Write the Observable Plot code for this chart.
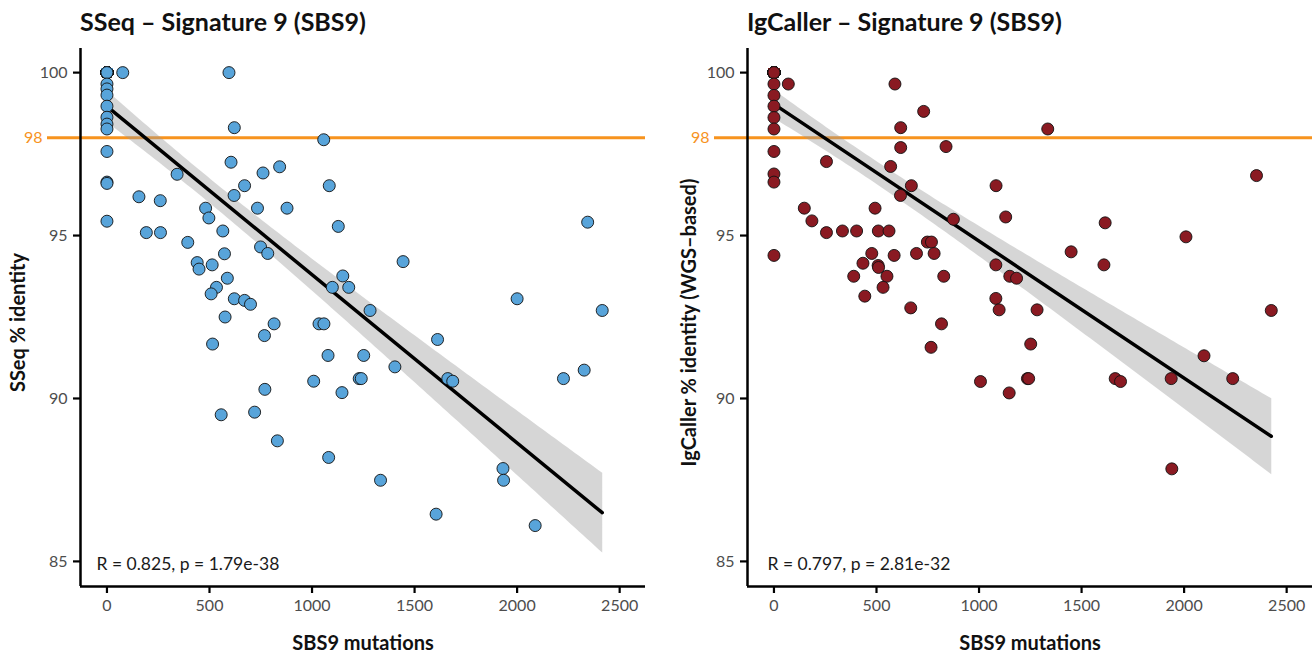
<!DOCTYPE html>
<html><head><meta charset="utf-8">
<script src="https://cdn.jsdelivr.net/npm/d3@7"></script>
<script src="https://cdn.jsdelivr.net/npm/@observablehq/plot@0.6"></script>
<style>
body{margin:0;background:#fff;font-family:Lato,sans-serif;}
.panel{position:absolute;top:0;width:658px;height:659px;}
.title{position:absolute;top:6px;font:bold 25px Lato,sans-serif;color:#111;white-space:nowrap;}
.panel svg{position:absolute;top:40px;left:0;}
</style></head><body>
<div id="p1" class="panel" style="left:0"></div>
<div id="p2" class="panel" style="left:658px"></div>
<script>
// ---- SSeq panel (SBS9 mutations vs SSeq % identity) ----
// many samples with 0 mutations / 100% identity are stacked on one spot
const sseqX = [0,0,0,0,0,0,0,0,0,0, 0,0,0,0,0,0,0,0,0,0, 0,0,0,0,0,0,0,0,0,0, 0,0,0,0,0,0,0,0,0,0, 0,0,0,0,0,0,0,0,0,0, 0,0,0,0,0,0,0,0,0,
  77,595,0,0,0,0,0,0,0,621,1057,0,605,842,761,342,0,0,1084,671,620,156,260,481,734,878,497,0,1128,192,261,565,394,749,784,573,440,449,513,1150,1099,1179,587,534,508,621,671,700,1283,576,815,1034,1058,768,515,1078,1252,1008,1230,1240,770,1146,557,720,831,1081,1444,2344,2000,2415,1612,1404,1662,1686,2226,2327,1931,1934,1334,1605,2088];
const sseqY = [100,100,100,100,100,100,100,100,100,100, 100,100,100,100,100,100,100,100,100,100, 100,100,100,100,100,100,100,100,100,100, 100,100,100,100,100,100,100,100,100,100, 100,100,100,100,100,100,100,100,100,100, 100,100,100,100,100,100,100,100,100,
  100,100,99.65,99.5,99.31,98.97,98.63,98.42,98.27,98.31,97.94,97.58,97.25,97.11,96.92,96.88,96.64,96.6,96.53,96.53,96.23,96.19,96.07,95.84,95.84,95.84,95.54,95.44,95.28,95.09,95.09,95.14,94.79,94.65,94.45,94.44,94.17,93.97,94.10,93.76,93.41,93.41,93.69,93.41,93.21,93.06,93.01,92.89,92.70,92.50,92.29,92.29,92.29,91.93,91.67,91.32,91.32,90.53,90.61,90.61,90.28,90.18,89.50,89.58,88.70,88.19,94.20,95.41,93.06,92.70,91.81,90.97,90.61,90.53,90.61,90.87,87.85,87.49,87.49,86.45,86.10];
// ---- IgCaller panel ----
const igX = [0,0,0,0,0,0,0,0,0,0, 0,0,0,0,0,0,0,0,0,0, 0,0,0,0,0,0,0,0,0,0, 0,0,0,0,0,0,0,0,0,0, 0,0,0,0,0,0,0,0,0,0, 0,0,0,0,0,0,0,0,0,
  0,70,590,0,0,730,0,0,618,618,839,0,256,569,0,0,670,1083,617,148,493,1130,185,875,256,334,403,509,561,748,768,0,477,586,695,781,434,508,510,389,551,828,1082,1150,1183,532,443,667,1082,1098,1283,817,766,1252,1007,1236,1242,1147,1335,2353,1615,2009,1449,1609,2425,1664,1690,1937,2097,2237,1940];
const igY = [100,100,100,100,100,100,100,100,100,100, 100,100,100,100,100,100,100,100,100,100, 100,100,100,100,100,100,100,100,100,100, 100,100,100,100,100,100,100,100,100,100, 100,100,100,100,100,100,100,100,100,100, 100,100,100,100,100,100,100,100,100,
  99.65,99.65,99.65,99.30,98.97,98.81,98.62,98.27,98.31,97.70,97.73,97.58,97.27,97.12,96.89,96.64,96.53,96.53,96.23,95.84,95.84,95.57,95.45,95.50,95.09,95.14,95.14,95.14,95.14,94.80,94.80,94.39,94.45,94.39,94.45,94.45,94.15,94.08,94.02,93.75,93.75,93.75,94.10,93.75,93.69,93.41,93.14,92.78,93.07,92.72,92.72,92.29,91.57,91.67,90.52,90.61,90.61,90.17,98.27,96.84,95.39,94.96,94.50,94.10,92.70,90.61,90.52,90.61,91.31,90.61,87.84];

const xTicks = [0,500,1000,1500,2000,2500];
const yTicks = [85,90,95,100];
const threshold = [98];
const titles = ["SSeq \u2013 Signature 9 (SBS9)", "IgCaller \u2013 Signature 9 (SBS9)"];
const yLabels = ["SSeq % identity", "IgCaller % identity (WGS\u2013based)"];
const xLabel = "SBS9 mutations";
const stats = ["R = 0.825, p = 1.79e-38", "R = 0.797, p = 2.81e-32"];
const colors = ["#58A4DA", "#8A1A22"];
const orange = "#F7931E";
const xDomain = [-129, 2626];
const yDomain = [84.23, 100.74];

function panel(id, k, xs, ys, ml, mr) {
  const data = xs.map((x, i) => ({x, y: ys[i]}));
  const el = document.getElementById(id);
  const t = document.createElement("div");
  t.className = "title"; t.style.left = ml + "px"; t.textContent = titles[k];
  el.appendChild(t);
  const chart = Plot.plot({
    width: 658, height: 619,
    marginTop: 8, marginBottom: 73, marginLeft: ml, marginRight: mr,
    style: {fontFamily: "Lato, sans-serif", fontSize: "16px", color: "#4d4d4d", background: "transparent", overflow: "visible"},
    x: {domain: xDomain},
    y: {domain: yDomain},
    marks: [
      Plot.ruleY(threshold, {stroke: orange, strokeWidth: 3, insetLeft: -33}),
      Plot.linearRegressionY(data, {x: "x", y: "y", stroke: "black", strokeWidth: 3.5, fill: "#999", fillOpacity: 0.4}),
      Plot.dot(data, {x: "x", y: "y", r: 6, fill: colors[k], stroke: "#111", strokeWidth: 0.9, fillOpacity: 1}),
      Plot.text([stats[k]], {frameAnchor: "bottom-left", dx: k ? 20 : 16, dy: -22, lineAnchor: "middle", textAnchor: "start", fill: "#1a1a1a", fontSize: 17.5}),
      Plot.axisX(xTicks, {tickSize: 7, tickPadding: 6, strokeWidth: 2.2, stroke: "black", fill: "#4d4d4d", fontSize: 16, tickFormat: d3.format("d"), label: null}),
      Plot.axisY(yTicks, {tickSize: 7, tickPadding: 6, strokeWidth: 2.2, stroke: "black", fill: "#4d4d4d", fontSize: 16, label: null}),
      Plot.text(threshold, {y: d => d, frameAnchor: "left", dx: -38, textAnchor: "end", fill: orange, fontSize: 16}),
      Plot.ruleX([xDomain[0]], {stroke: "black", strokeWidth: 2.5}),
      Plot.ruleY([yDomain[0]], {stroke: "black", strokeWidth: 2.5}),
      Plot.text([xLabel], {frameAnchor: "bottom", dy: 57, lineAnchor: "middle", fontWeight: "bold", fontSize: 20, fill: "#111"}),
      Plot.text([yLabels[k]], {frameAnchor: "left", rotate: -90, dx: k ? -58 : -62, dy: 5, textAnchor: "middle", lineAnchor: "middle", fontWeight: "bold", fontSize: 20, fill: "#111"})
    ]
  });
  el.appendChild(chart);
}
panel("p1", 0, sseqX, sseqY, 80, 13);
panel("p2", 1, igX, igY, 89, 4);
</script>
</body></html>
